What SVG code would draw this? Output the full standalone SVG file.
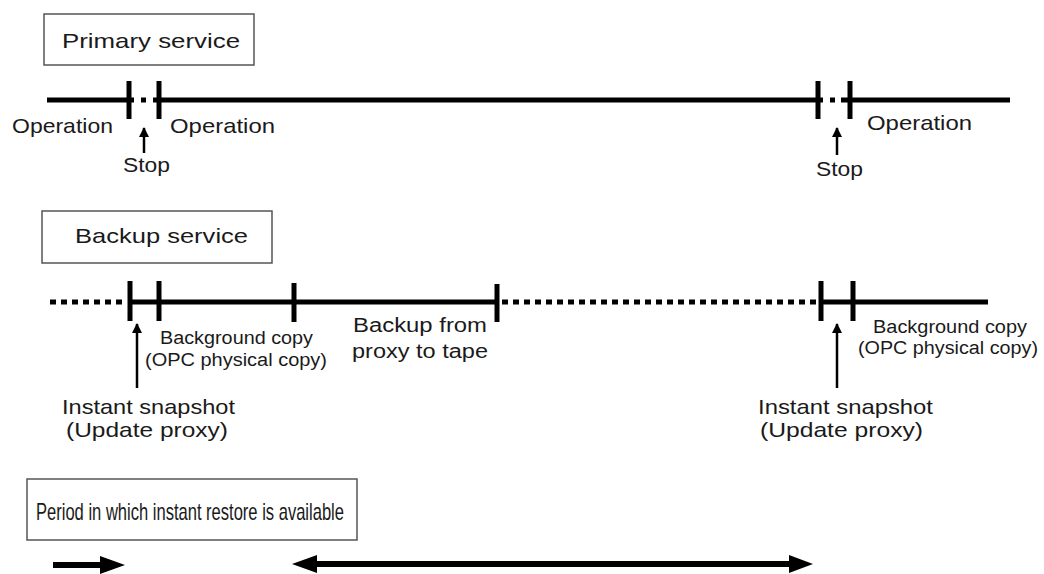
<svg xmlns="http://www.w3.org/2000/svg" width="1044" height="574" viewBox="0 0 1044 574">
<style>
text{font-family:"Liberation Sans",Arial,sans-serif;fill:#1a1a1a}
.t21{font-size:21px}
.t24{font-size:24px}
.t18{font-size:18px}
.t20{font-size:20px}
.box{fill:#fff;stroke:#555;stroke-width:1.5}
.axis{stroke:#000;stroke-width:5;fill:none}
.tick{stroke:#000;stroke-width:5}
.dot{stroke:#000;stroke-width:5;stroke-dasharray:6 5;fill:none}
.thin{stroke:#000;stroke-width:2.5;fill:none}
.thick{stroke:#000;stroke-width:6;fill:none}
.head{fill:#000;stroke:none}
</style>
<defs>
<marker id="sh" viewBox="0 0 10 10" refX="9" refY="5" markerWidth="4" markerHeight="4" orient="auto" markerUnits="strokeWidth">
<path d="M0,0 L10,5 L0,10 z" fill="#000"/>
</marker>
</defs>

<g id="primary-label">
<rect class="box" x="44" y="14" width="210" height="51"/>
<text class="t21" x="62" y="48" textLength="178" lengthAdjust="spacingAndGlyphs">Primary service</text>
</g>

<g id="primary-timeline">
<line class="axis" x1="47" y1="100" x2="129" y2="100"/>
<line class="tick" x1="129" y1="81" x2="129" y2="119"/>
<line class="axis" x1="131" y1="100" x2="157" y2="100" style="stroke-dasharray:3 7 5 7 4"/>
<line class="tick" x1="159" y1="81" x2="159" y2="119"/>
<line class="axis" x1="159" y1="100" x2="818" y2="100"/>
<line class="tick" x1="818" y1="81" x2="818" y2="119"/>
<line class="axis" x1="820" y1="100" x2="848" y2="100" style="stroke-dasharray:3 7 5 6 7"/>
<line class="tick" x1="850" y1="81" x2="850" y2="119"/>
<line class="axis" x1="850" y1="100" x2="1010" y2="100"/>
</g>

<g id="primary-texts">
<text class="t21" x="12" y="133" textLength="101" lengthAdjust="spacingAndGlyphs">Operation</text>
<text class="t21" x="170" y="133" textLength="105" lengthAdjust="spacingAndGlyphs">Operation</text>
<text class="t21" x="867" y="130" textLength="105" lengthAdjust="spacingAndGlyphs">Operation</text>
<text class="t21" x="123" y="172" textLength="47" lengthAdjust="spacingAndGlyphs">Stop</text>
<text class="t21" x="816" y="176" textLength="47" lengthAdjust="spacingAndGlyphs">Stop</text>
</g>

<g id="backup-label">
<rect class="box" x="42" y="211" width="230" height="52"/>
<text class="t21" x="75" y="243" textLength="173" lengthAdjust="spacingAndGlyphs">Backup service</text>
</g>

<g id="backup-timeline">
<line class="dot" x1="50" y1="302" x2="127" y2="302"/>
<line class="tick" x1="130" y1="281" x2="130" y2="321"/>
<line class="axis" x1="130" y1="302" x2="497" y2="302"/>
<line class="tick" x1="159" y1="281" x2="159" y2="321"/>
<line class="tick" x1="294" y1="283" x2="294" y2="322"/>
<line class="tick" x1="497" y1="284" x2="497" y2="322"/>
<line class="dot" x1="502" y1="302" x2="818" y2="302"/>
<line class="tick" x1="821" y1="281" x2="821" y2="321"/>
<line class="axis" x1="821" y1="302" x2="988" y2="302"/>
<line class="tick" x1="853" y1="281" x2="853" y2="321"/>
</g>

<g id="backup-texts">
<text class="t18" x="160" y="344" textLength="153" lengthAdjust="spacingAndGlyphs">Background copy</text>
<text class="t18" x="145" y="366" textLength="182" lengthAdjust="spacingAndGlyphs">(OPC physical copy)</text>
<text class="t20" x="353" y="332" textLength="134" lengthAdjust="spacingAndGlyphs">Backup from</text>
<text class="t20" x="352" y="358" textLength="136" lengthAdjust="spacingAndGlyphs">proxy to tape</text>
<text class="t21" x="62" y="414" textLength="173" lengthAdjust="spacingAndGlyphs">Instant snapshot</text>
<text class="t21" x="66" y="437" textLength="162" lengthAdjust="spacingAndGlyphs">(Update proxy)</text>
<text class="t18" x="873" y="333" textLength="154" lengthAdjust="spacingAndGlyphs">Background copy</text>
<text class="t18" x="858" y="354" textLength="180" lengthAdjust="spacingAndGlyphs">(OPC physical copy)</text>
<text class="t21" x="758" y="414" textLength="175" lengthAdjust="spacingAndGlyphs">Instant snapshot</text>
<text class="t21" x="760" y="437" textLength="163" lengthAdjust="spacingAndGlyphs">(Update proxy)</text>
</g>

<g id="period-label">
<rect class="box" x="27" y="479" width="330" height="61"/>
<text class="t24" x="36" y="520" textLength="308" lengthAdjust="spacingAndGlyphs">Period in which instant restore is available</text>
</g>

<g id="connectors">
<line class="thin" x1="144" y1="153" x2="144" y2="128" marker-end="url(#sh)"/>
<line class="thin" x1="837" y1="155" x2="837" y2="128" marker-end="url(#sh)"/>
<line class="thin" x1="137" y1="388" x2="137" y2="324" marker-end="url(#sh)"/>
<line class="thin" x1="837" y1="388" x2="837" y2="324" marker-end="url(#sh)"/>
<line class="thick" x1="53" y1="565" x2="104" y2="565"/>
<path class="head" d="M100,556 L125,565 L100,574 Z"/>
<line class="thick" x1="314" y1="564" x2="792" y2="564"/>
<path class="head" d="M317,555 L292,564 L317,573 Z"/>
<path class="head" d="M789,555 L813,564 L789,573 Z"/>
</g>
</svg>
